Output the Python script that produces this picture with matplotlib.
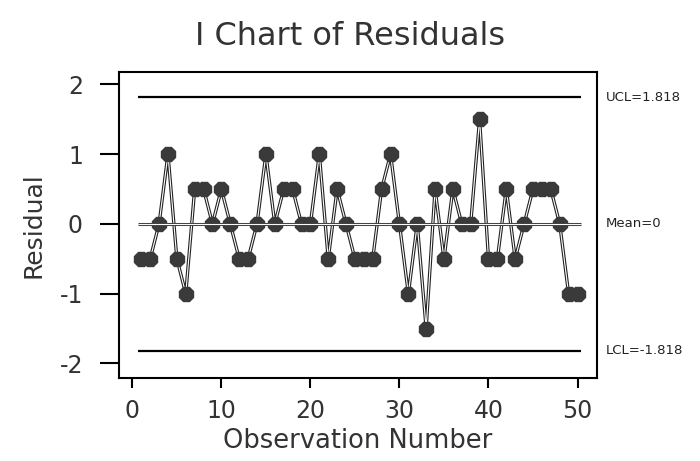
import numpy as np
import matplotlib
matplotlib.use("Agg")
import matplotlib.pyplot as plt

plt.rcParams['font.family'] = ['DejaVu Sans']
plt.rcParams['axes.unicode_minus'] = False

# individual residuals, one per observation
obs = np.arange(1, 51)
residuals = [-0.5, -0.5, 0, 1, -0.5, -1, 0.5, 0.5, 0, 0.5,
             0, -0.5, -0.5, 0, 1, 0, 0.5, 0.5, 0, 0,
             1, -0.5, 0.5, 0, -0.5, -0.5, -0.5, 0.5, 1, 0,
             -1, 0, -1.5, 0.5, -0.5, 0.5, 0, 0, 1.5, -0.5,
             -0.5, 0.5, -0.5, 0, 0.5, 0.5, 0.5, 0, -1, -1]
ucl = 1.818
mean = 0
lcl = -1.818
limit_labels = ['UCL=1.818', 'Mean=0', 'LCL=-1.818']

fig = plt.figure(figsize=(7, 4.61), dpi=100)
ax = fig.add_axes([0.170, 0.180, 0.683, 0.664])

# control limits
ax.hlines([ucl, lcl], 0.6, 50.4, color='black', lw=1.6, zorder=1)

# connecting line drawn as an outline
ax.plot(obs, residuals, color='#222222', lw=2.4, zorder=2)
ax.plot(obs, residuals, color='white', lw=0.8, zorder=2)
ax.plot(obs, residuals, ls='none', marker='8', ms=10.5,
        mfc='#3a3a3a', mec='#3a3a3a', zorder=3)

# centre line over the markers
ax.hlines(mean, 0.6, 50.4, color='#444444', lw=2.2, zorder=4)
ax.hlines(mean, 0.6, 50.4, color='white', lw=0.7, zorder=5)

for val, lab in zip([ucl, mean, lcl], limit_labels):
    ax.text(1.018, val, lab, transform=ax.get_yaxis_transform(),
            va='center', ha='left', fontsize=9.5, color='#222222')

ax.set_xlim(-1.5, 52.2)
ax.set_ylim(-2.21, 2.18)
ax.set_xticks([0, 10, 20, 30, 40, 50])
ax.set_yticks([-2, -1, 0, 1, 2])
ax.tick_params(axis='y', length=14, width=1.5, pad=12, labelsize=17,
               labelcolor='#333333')
ax.tick_params(axis='x', length=7, width=1.5, pad=8, labelsize=17,
               labelcolor='#333333')
for s in ax.spines.values():
    s.set_linewidth(1.5)

ax.set_xlabel('Observation Number', fontsize=18.5, color='#333333', labelpad=4)
ax.set_ylabel('Residual', fontsize=18, color='#333333', labelpad=10)
fig.suptitle('I Chart of Residuals', fontsize=23, color='#333333', y=0.955)

fig.savefig('out.png', dpi=100, facecolor='white')
